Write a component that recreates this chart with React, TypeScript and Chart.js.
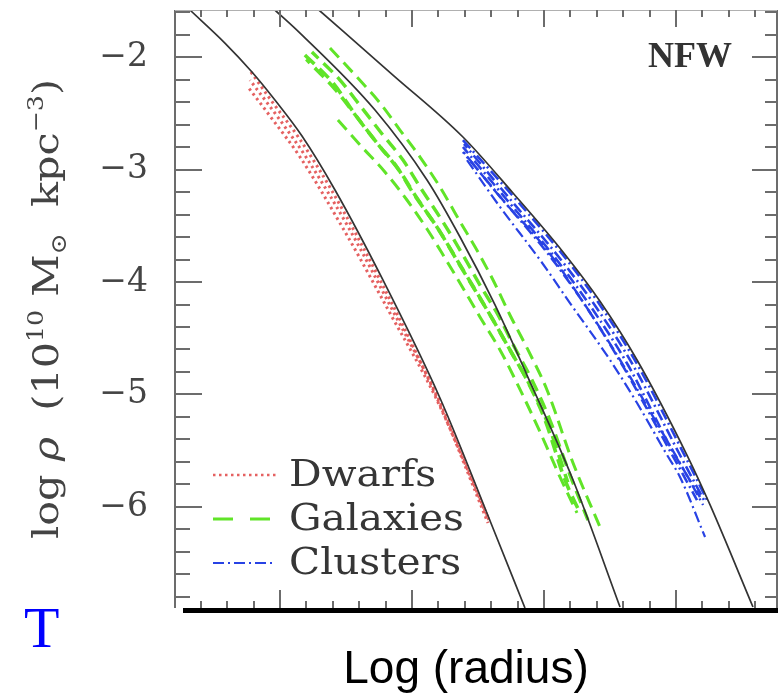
import React, { useEffect, useRef } from 'react';
import { Chart, registerables } from 'chart.js';

Chart.register(...registerables);

// ---------- axes ----------
const X_MIN = 0.205;
const X_MAX = 4.765;
const Y_MIN = -6.898;
const Y_MAX = -1.582;
const Y_TICKS = [-2, -3, -4, -5, -6];
const MINOR_DIV = 5; // minor ticks every 0.2

const X_TITLE = 'Log (radius)';
const CORNER_LABEL = 'NFW';
const SIDE_MARK = 'T';
const LEGEND_LABELS = ['Dwarfs', 'Galaxies', 'Clusters'];

// ---------- NFW fits (solid black) ----------
const NFW_DWARF_X = [0.318, 0.583, 0.788, 0.962, 1.167, 1.417, 1.78, 2.212, 2.598, 2.856];
const NFW_DWARF_Y = [-1.582, -1.876, -2.133, -2.382, -2.702, -3.182, -3.982, -5.031, -6.142, -6.898];
const NFW_GALAXY_X = [0.962, 1.152, 1.72, 2.114, 2.364, 2.629, 2.871, 3.22, 3.576];
const NFW_GALAXY_Y = [-1.582, -1.787, -2.471, -3.093, -3.6, -4.204, -4.827, -5.76, -6.889];
const NFW_CLUSTER_X = [1.295, 1.856, 2.386, 2.765, 3.144, 3.424, 3.705, 4.083, 4.258, 4.583];
const NFW_CLUSTER_Y = [-1.582, -2.16, -2.711, -3.209, -3.733, -4.171, -4.693, -5.538, -5.982, -6.889];

// ---------- Dwarfs (red dotted) ----------
const DWARF_A_X = [0.78, 0.939, 1.144, 1.394, 1.758, 2.189, 2.576];
const DWARF_A_Y = [-2.133, -2.395, -2.72, -3.19, -3.982, -5.031, -6.142];
const DWARF_B_X = [0.773, 1.0, 1.197, 1.53, 1.864, 2.205, 2.583];
const DWARF_B_Y = [-2.205, -2.56, -2.889, -3.538, -4.276, -5.049, -6.116];
const DWARF_C_X = [0.758, 0.947, 1.152, 1.485, 1.833, 2.189, 2.583];
const DWARF_C_Y = [-2.267, -2.56, -2.889, -3.538, -4.276, -5.049, -6.116];

// ---------- Galaxies (green dashed) ----------
const GAL_A_X = [1.189, 1.402, 1.583, 1.735, 1.886, 2.008, 2.189, 2.348, 2.477, 2.614, 2.742, 2.871, 3.008, 3.159, 3.273];
const GAL_A_Y = [-1.982, -2.231, -2.533, -2.764, -2.978, -3.209, -3.511, -3.822, -4.071, -4.338, -4.604, -4.871, -5.227, -5.76, -6.053];
const GAL_B_X = [1.242, 1.455, 1.621, 1.78, 1.932, 2.061, 2.235, 2.386, 2.515, 2.652, 2.78, 2.909, 3.045, 3.197, 3.333];
const GAL_B_Y = [-1.956, -2.205, -2.453, -2.693, -2.916, -3.156, -3.467, -3.76, -4.027, -4.293, -4.587, -4.871, -5.227, -5.716, -6.116];
const GAL_C_X = [1.439, 1.621, 1.795, 1.962, 2.114, 2.25, 2.386, 2.515, 2.667, 2.795, 2.97, 3.121, 3.25];
const GAL_C_Y = [-2.56, -2.8, -3.022, -3.271, -3.529, -3.787, -4.053, -4.311, -4.604, -4.898, -5.333, -5.733, -6.053];
const GAL_D_X = [1.379, 1.583, 1.758, 1.909, 2.061, 2.212, 2.379, 2.5, 2.614, 2.742, 2.879, 3.023, 3.22, 3.424];
const GAL_D_Y = [-1.92, -2.178, -2.409, -2.649, -2.889, -3.156, -3.493, -3.733, -3.982, -4.293, -4.604, -4.96, -5.609, -6.178];
const GAL_E_X = [1.2, 1.42, 1.6, 1.76, 1.91, 2.03, 2.21, 2.37, 2.5, 2.63, 2.76, 2.89, 3.03, 3.18];
const GAL_E_Y = [-2.02, -2.29, -2.56, -2.8, -3.02, -3.24, -3.55, -3.86, -4.11, -4.37, -4.64, -4.91, -5.26, -5.78];

// ---------- Clusters (blue dash-dot) ----------
const CL_A_X = [2.386, 2.765, 3.144, 3.424, 3.705, 4.083, 4.235];
const CL_A_Y = [-2.738, -3.236, -3.76, -4.204, -4.729, -5.582, -5.938];
const CL_E_X = [2.394, 2.742, 3.106, 3.394, 3.674, 4.03, 4.212];
const CL_E_Y = [-2.773, -3.262, -3.769, -4.222, -4.738, -5.538, -5.938];
const CL_B_X = [2.386, 2.72, 3.068, 3.356, 3.636, 3.97, 4.182];
const CL_B_Y = [-2.8, -3.271, -3.76, -4.222, -4.738, -5.493, -5.911];
const CL_F_X = [2.386, 2.689, 3.038, 3.326, 3.606, 3.909, 4.159];
const CL_F_Y = [-2.844, -3.271, -3.76, -4.231, -4.764, -5.404, -5.938];
const CL_C_X = [2.379, 2.667, 3.023, 3.311, 3.576, 3.841, 4.03, 4.205];
const CL_C_Y = [-2.827, -3.244, -3.716, -4.204, -4.693, -5.227, -5.609, -5.982];
const CL_D_X = [2.417, 2.667, 2.97, 3.197, 3.5, 3.705, 3.932, 4.03, 4.22];
const CL_D_Y = [-2.916, -3.333, -3.804, -4.187, -4.693, -5.076, -5.538, -5.733, -6.267];

// ---------- styles ----------
const BLACK = '#333333';
const RED = 'rgba(228,88,88,0.95)';
const GREEN = 'rgb(96,228,40)';
const BLUE = 'rgb(40,66,228)';
const RED_DASH = [2.5, 3.5];
const GREEN_DASH = [13, 7];
const BLUE_DASH = [11, 4, 2, 4];

const pts = (xs: number[], ys: number[]) => xs.map((x, i) => ({ x, y: ys[i] }));

const line = (xs: number[], ys: number[], color: string, width: number, dash: number[], offset = 0) => ({
  data: pts(xs, ys),
  showLine: true,
  borderColor: color,
  borderWidth: width,
  borderDash: dash,
  borderDashOffset: offset,
  pointRadius: 0,
  cubicInterpolationMode: 'monotone',
  fill: false,
});

const SERIF = '"DejaVu Serif", serif';

const zeroPad = (s: any) => {
  s.paddingTop = 0;
  s.paddingBottom = 0;
  s.paddingLeft = 0;
  s.paddingRight = 0;
};

const decor = {
  id: 'decor',
  afterDatasetsDraw(chart: any) {
    const { ctx, chartArea: a, scales } = chart;
    const x = scales.x;
    const y = scales.y;
    ctx.save();
    ctx.lineCap = 'butt';
    ctx.strokeStyle = '#6c6c6c';
    ctx.lineWidth = 2;
    ctx.beginPath();
    ctx.moveTo(a.left, a.top);
    ctx.lineTo(a.left, a.bottom);
    ctx.moveTo(a.right, a.top);
    ctx.lineTo(a.right, a.bottom);
    ctx.stroke();
    ctx.strokeStyle = '#b0b0b0';
    ctx.lineWidth = 1;
    ctx.beginPath();
    ctx.moveTo(a.left, a.top + 0.5);
    ctx.lineTo(a.right, a.top + 0.5);
    ctx.stroke();

    ctx.strokeStyle = '#6c6c6c';
    ctx.lineWidth = 2;
    ctx.beginPath();
    for (let k = Math.ceil(Y_MIN * MINOR_DIV); k <= Math.floor(Y_MAX * MINOR_DIV); k++) {
      const py = Math.round(y.getPixelForValue(k / MINOR_DIV));
      const major = k % MINOR_DIV === 0;
      ctx.moveTo(a.left, py);
      ctx.lineTo(a.left + (major ? 27 : 15), py);
      ctx.moveTo(a.right, py);
      ctx.lineTo(a.right - (major ? 25 : 12), py);
    }
    for (let k = Math.ceil(X_MIN * MINOR_DIV); k <= Math.floor(X_MAX * MINOR_DIV); k++) {
      const px = Math.round(x.getPixelForValue(k / MINOR_DIV));
      if (px <= a.left + 2 || px >= a.right - 2) continue;
      const major = k % MINOR_DIV === 0;
      ctx.moveTo(px, a.top);
      ctx.lineTo(px, a.top + (major ? 17 : 7));
      ctx.moveTo(px, a.bottom);
      ctx.lineTo(px, a.bottom - (major ? 18 : 7));
    }
    ctx.stroke();

    // heavy base rule
    ctx.fillStyle = '#000';
    ctx.fillRect(a.left + 8, a.bottom, a.right - a.left - 7, 5);
    ctx.restore();
  },
  afterDraw(chart: any) {
    const { ctx, chartArea: a } = chart;
    ctx.save();
    // legend
    const styles = [
      { c: RED, d: RED_DASH, w: 2.5 },
      { c: GREEN, d: [20, 17], w: 3 },
      { c: BLUE, d: BLUE_DASH, w: 2 },
    ];
    LEGEND_LABELS.forEach((lab, i) => {
      const ly = a.top + 465 + i * 44;
      ctx.strokeStyle = styles[i].c;
      ctx.lineWidth = styles[i].w;
      ctx.setLineDash(styles[i].d);
      ctx.beginPath();
      ctx.moveTo(a.left + 38, ly);
      ctx.lineTo(a.left + 101, ly);
      ctx.stroke();
      ctx.setLineDash([]);
      ctx.save();
      ctx.translate(a.left + 114, ly + 11);
      ctx.scale(1.1, 1);
      ctx.fillStyle = '#363636';
      ctx.font = '37px ' + SERIF;
      ctx.textAlign = 'left';
      ctx.textBaseline = 'alphabetic';
      ctx.fillText(lab, 0, 0);
      ctx.restore();
    });

    // corner label
    ctx.fillStyle = '#333';
    ctx.font = 'bold 36px "Liberation Serif", serif';
    ctx.textAlign = 'right';
    ctx.fillText(CORNER_LABEL, a.right - 45, a.top + 57);

    // x title
    ctx.fillStyle = '#000';
    ctx.font = '46px "Liberation Sans", Arial, sans-serif';
    ctx.textAlign = 'center';
    ctx.fillText(X_TITLE, 466, 683);

    // side mark
    ctx.fillStyle = '#0000ff';
    ctx.font = '58px "Liberation Serif", serif';
    ctx.textAlign = 'left';
    ctx.fillText(SIDE_MARK, 24, 647);

    // y title (rotated, rich)
    const F = 36;
    const parts = [
      { t: 'log ', s: 1, dy: 0, it: false },
      { t: 'ρ', s: 1, dy: 0, it: true },
      { t: '  (10', s: 1, dy: 0, it: false },
      { t: '10', s: 0.62, dy: -0.42, it: false },
      { t: ' M', s: 1, dy: 0, it: false },
      { t: '⊙', s: 0.62, dy: 0.22, it: false },
      { t: '  kpc', s: 1, dy: 0, it: false },
      { t: '−3', s: 0.62, dy: -0.42, it: false },
      { t: ')', s: 1, dy: 0, it: false },
    ];
    const fontOf = (p: any) => `${p.it ? 'italic ' : ''}${Math.round(F * p.s)}px ${SERIF}`;
    let total = 0;
    parts.forEach((p) => {
      ctx.font = fontOf(p);
      total += ctx.measureText(p.t).width;
    });
    const target = 460;
    const sx = target / total;
    const cy = (a.top + a.bottom) / 2;
    ctx.save();
    ctx.translate(58, cy + target / 2);
    ctx.rotate(-Math.PI / 2);
    ctx.scale(sx, 1);
    ctx.fillStyle = '#444';
    ctx.textAlign = 'left';
    let cx = 0;
    parts.forEach((p) => {
      ctx.font = fontOf(p);
      ctx.fillText(p.t, cx, p.dy * F);
      cx += ctx.measureText(p.t).width;
    });
    ctx.restore();
    ctx.restore();
  },
};

export default function App() {
  const ref = useRef<HTMLCanvasElement>(null);
  useEffect(() => {
    if (!ref.current) return;
    const chart = new Chart(ref.current, {
      type: 'scatter',
      data: {
        datasets: [
          line(NFW_DWARF_X, NFW_DWARF_Y, BLACK, 1.7, []),
          line(NFW_GALAXY_X, NFW_GALAXY_Y, BLACK, 1.7, []),
          line(NFW_CLUSTER_X, NFW_CLUSTER_Y, BLACK, 1.7, []),
          line(CL_A_X, CL_A_Y, BLUE, 2.6, BLUE_DASH),
          line(CL_E_X, CL_E_Y, BLUE, 2.6, BLUE_DASH, 6),
          line(CL_B_X, CL_B_Y, BLUE, 2.6, BLUE_DASH, 3),
          line(CL_F_X, CL_F_Y, BLUE, 2.6, BLUE_DASH, 9),
          line(CL_C_X, CL_C_Y, BLUE, 2.4, BLUE_DASH, 12),
          line(CL_D_X, CL_D_Y, BLUE, 2.2, BLUE_DASH),
          line(GAL_A_X, GAL_A_Y, GREEN, 3.6, GREEN_DASH),
          line(GAL_E_X, GAL_E_Y, GREEN, 3.6, GREEN_DASH, 8),
          line(GAL_B_X, GAL_B_Y, GREEN, 3.4, GREEN_DASH, 4),
          line(GAL_C_X, GAL_C_Y, GREEN, 3, GREEN_DASH),
          line(GAL_D_X, GAL_D_Y, GREEN, 3, GREEN_DASH),
          line(DWARF_A_X, DWARF_A_Y, RED, 3, RED_DASH),
          line(DWARF_B_X, DWARF_B_Y, RED, 3, RED_DASH, 2),
          line(DWARF_C_X, DWARF_C_Y, RED, 3, RED_DASH, 4),
        ] as any,
      },
      options: {
        responsive: false,
        animation: false,
        devicePixelRatio: 1,
        layout: { padding: { left: 0, right: 5, top: 10, bottom: 0 } },
        plugins: { legend: { display: false }, tooltip: { enabled: false } },
        scales: {
          x: {
            type: 'linear',
            min: X_MIN,
            max: X_MAX,
            grid: { display: false, drawTicks: false },
            border: { display: false },
            ticks: { display: false },
            afterFit: (s: any) => {
              s.height = 88;
              zeroPad(s);
            },
          },
          y: {
            type: 'linear',
            min: Y_MIN,
            max: Y_MAX,
            grid: { display: false, drawTicks: false },
            border: { display: false },
            afterBuildTicks: (s: any) => {
              s.ticks = Y_TICKS.map((v) => ({ value: v }));
            },
            ticks: {
              padding: 27,
              color: '#444',
              font: { family: 'DejaVu Serif', size: 33 },
              callback: (v: any) => '\u2212' + Math.abs(Number(v)),
            },
            afterFit: (s: any) => {
              s.width = 175;
              zeroPad(s);
            },
          },
        },
      } as any,
      plugins: [decor],
    });
    return () => chart.destroy();
  }, []);
  return (
    <div style={{ position: 'absolute', left: 0, top: 0, width: 782, height: 696, background: '#fff' }}>
      <canvas ref={ref} width={782} height={696} style={{ display: 'block', width: 782, height: 696 }} />
    </div>
  );
}
